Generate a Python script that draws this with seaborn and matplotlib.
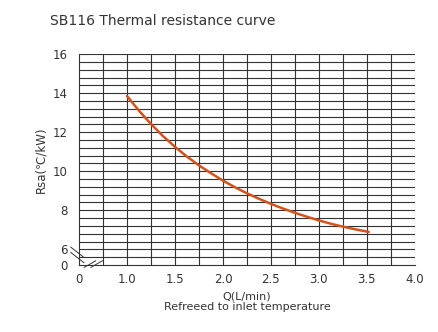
import matplotlib
matplotlib.use("Agg")
import matplotlib.pyplot as plt
import seaborn as sns
import pandas as pd
import numpy as np

# data
flow = [1.0, 1.125, 1.25, 1.375, 1.5, 1.625, 1.75, 1.875, 2.0, 2.125, 2.25, 2.375, 2.5,
        2.625, 2.75, 2.875, 3.0, 3.125, 3.25, 3.385, 3.52]
rsa = [13.85, 13.1, 12.42, 11.8, 11.25, 10.75, 10.30, 9.9, 9.52, 9.18, 8.87, 8.59, 8.33,
       8.09, 7.87, 7.67, 7.48, 7.31, 7.16, 7.02, 6.89]
xtick_pos = [0.5, 1.0, 1.5, 2.0, 2.5, 3.0, 3.5, 4.0]
xtick_lab = ["0", "1.0", "1.5", "2.0", "2.5", "3.0", "3.5", "4.0"]
ytick_pos = [5.2, 6, 8, 10, 12, 14, 16]
ytick_lab = ["0", "6", "8", "10", "12", "14", "16"]

sns.set_style("white")
plt.rcParams['font.family'] = ['DejaVu Sans']

fig = plt.figure(figsize=(4.39, 3.32), dpi=100)
ax = fig.add_axes([0.18, 0.202, 0.765, 0.635])

df = pd.DataFrame({"Q": flow, "Rsa": rsa})
sns.lineplot(data=df, x="Q", y="Rsa", ax=ax, color="#d4521c", linewidth=1.8)

ax.set_xlim(0.5, 4.0)
ax.set_ylim(5.2, 16)

# grid
for xv in np.arange(0.75, 4.01, 0.25):
    ax.axvline(xv, color="#333333", linewidth=0.8, zorder=0)
for yv in np.arange(5.6, 16.01, 0.4):
    ax.axhline(yv, color="#333333", linewidth=0.8, zorder=0)

ax.set_xticks(xtick_pos)
ax.set_xticklabels(xtick_lab)
ax.set_yticks(ytick_pos)
ax.set_yticklabels(ytick_lab)
ax.tick_params(axis="y", length=6, width=0.8, color="#333333", labelsize=8.5, labelcolor="#333333", pad=2)
ax.tick_params(axis="x", length=0, labelsize=8.5, labelcolor="#333333", pad=6)
for s in ["top", "right"]:
    ax.spines[s].set_visible(False)
for s in ["left", "bottom"]:
    ax.spines[s].set_color("#333333")
    ax.spines[s].set_linewidth(0.8)

# break marks
for dy in (0.0, 0.025):
    ax.plot([-0.025, 0.015], [0.06 + dy, 0.01 + dy], transform=ax.transAxes, color="#333333",
            linewidth=0.7, clip_on=False)
for dx in (0.0, 0.02):
    ax.plot([0.015 + dx, 0.05 + dx], [-0.012, 0.02], transform=ax.transAxes, color="#333333",
            linewidth=0.7, clip_on=False)

ax.set_xlabel("Q(L/min)\nRefreeed to inlet temperature", fontsize=8, color="#333333", labelpad=4,
              linespacing=1.05)
ax.set_ylabel("Rsa(℃/kW)", fontsize=8.5, color="#333333", labelpad=4)

fig.text(0.114, 0.925, "SB116 Thermal resistance curve", fontsize=10, color="#333333")

fig.savefig("out.png", dpi=100)
